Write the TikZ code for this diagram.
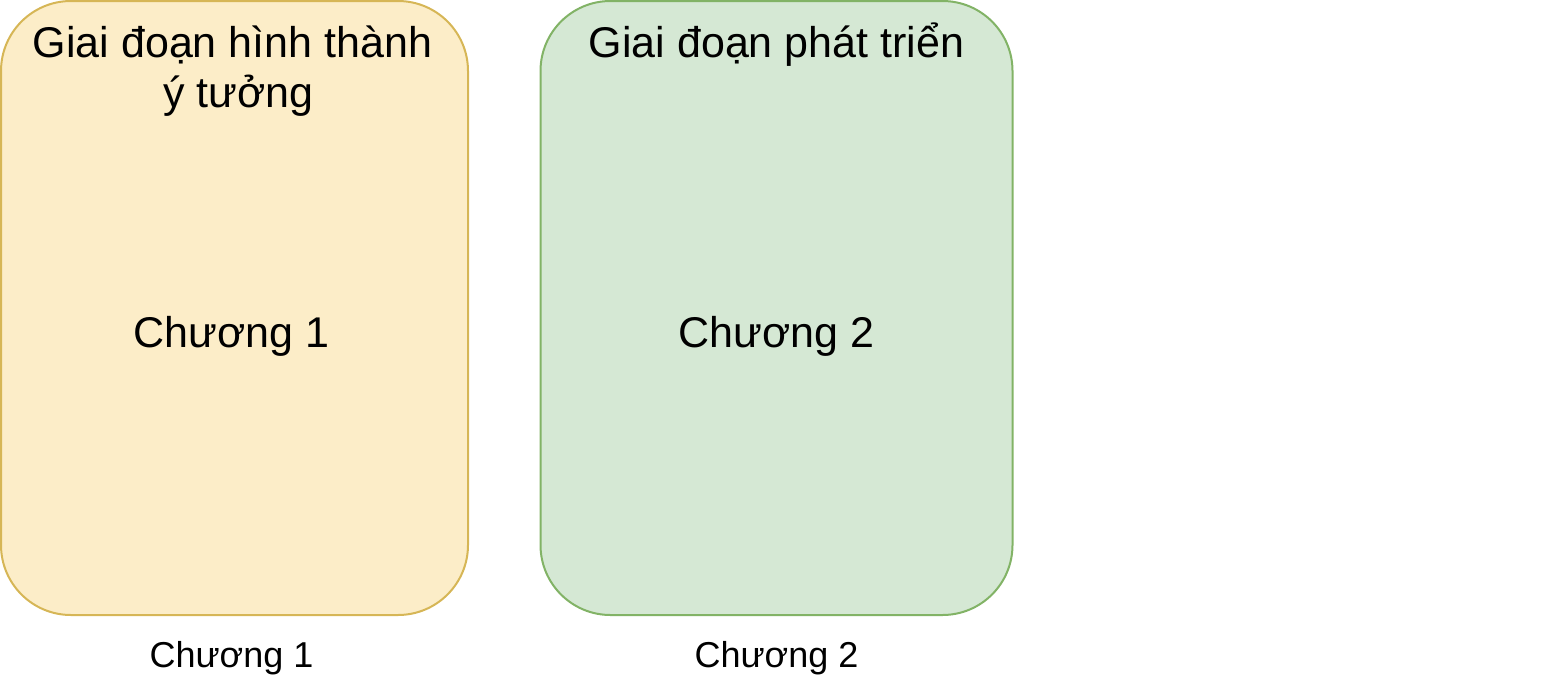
\documentclass[tikz,border=0pt]{standalone}
\usepackage{fontspec}
\setmainfont{Liberation Sans}
\usetikzlibrary{positioning, calc}

\definecolor{ideafill}{HTML}{FCEDC8}
\definecolor{ideadraw}{HTML}{D6B656}
\definecolor{devfill}{HTML}{D5E8D4}
\definecolor{devdraw}{HTML}{82B366}

\begin{document}
\begin{tikzpicture}[x=1pt,y=1pt,
    phase/.style={rounded corners=70pt, line width=2pt, minimum width=467pt, minimum height=614pt, inner sep=0pt},
    title/.style={font=\fontsize{43}{50}\selectfont, align=center, anchor=base},
    chapter/.style={font=\fontsize{43}{50}\selectfont},
    caption/.style={font=\fontsize{36}{42}\selectfont}]
        \useasboundingbox (0,0) rectangle (1552,-688);

        % the two phase boxes
        \node[phase, fill=ideafill, draw=ideadraw] (P1) at (234.5,-308) {};
        \node[phase, fill=devfill, draw=devdraw, minimum width=472pt] (P2) at (776.5,-308) {};

        % titles
        \node[title] (T1) at ($(P1.north)+(-2,-107)$) {Giai đoạn hình thành\\\hspace*{12pt}ý tưởng};
        \node[title] (T2) at ($(P2.north)+(0,-57)$) {Giai đoạn phát triển};

        % labels inside
        \node[chapter] (C1) at ($(P1.center)+(-3,-28)$) {Chương 1};
        \node[chapter] (C2) at ($(P2.center)+(0,-28)$) {Chương 2};

        % captions below
        \node[caption] (L1) [below=22pt of P1.south, xshift=-3pt] {Chương 1};
        \node[caption] (L2) [below=22pt of P2.south] {Chương 2};
    \end{tikzpicture}
\end{document}
